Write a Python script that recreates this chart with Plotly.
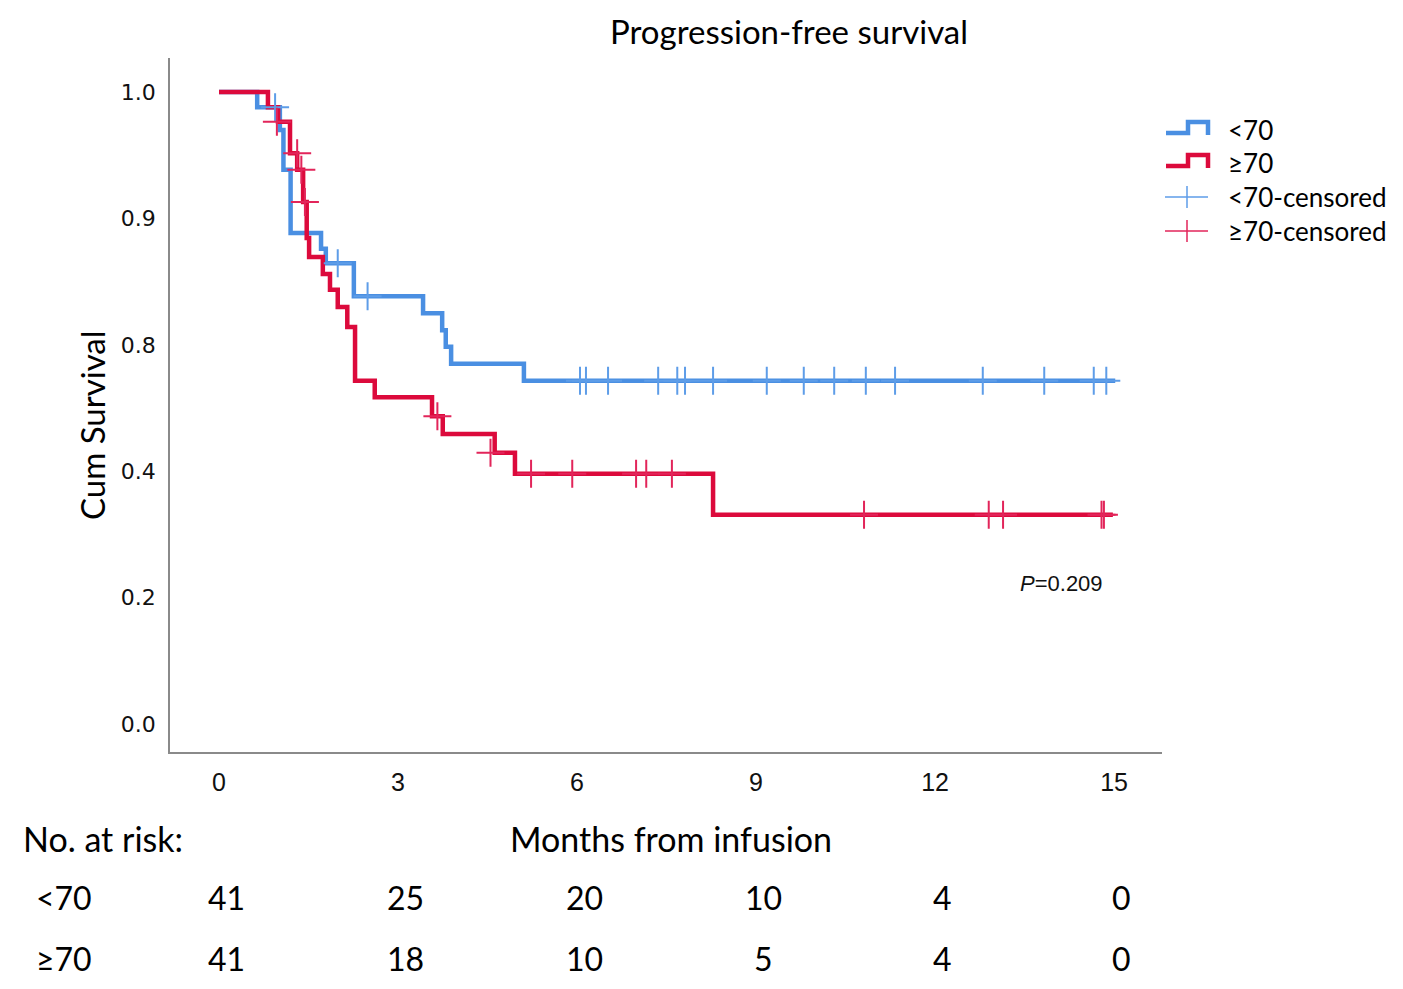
import plotly.graph_objects as go

# ---------------- data ----------------
blue_t = [0, 0.64, 1.02, 1.08, 1.20, 1.71, 1.79, 2.26, 3.42, 3.74, 3.80, 3.89, 5.11, 15.02]
blue_s = [1.0, 0.976, 0.940, 0.877, 0.777, 0.752, 0.729, 0.677, 0.650, 0.623, 0.597, 0.570, 0.543, 0.543]

red_t = [0, 0.82, 0.99, 1.19, 1.31, 1.41, 1.47, 1.51, 1.74, 1.86, 1.99, 2.15, 2.28, 2.61,
         3.57, 3.75, 4.62, 4.96, 8.28, 14.98]
red_s = [1.0, 0.976, 0.953, 0.903, 0.877, 0.826, 0.769, 0.739, 0.712, 0.687, 0.660, 0.628,
         0.543, 0.517, 0.487, 0.459, 0.429, 0.396, 0.331, 0.331]

blue_cens_t = [0.94, 1.99, 2.49, 6.05, 6.15, 6.52, 7.36, 7.68, 7.81, 8.28, 9.18, 9.80,
               10.31, 10.84, 11.33, 12.80, 13.83, 14.66, 14.87]
blue_cens_s = [0.976, 0.729, 0.677] + [0.543] * 16

red_cens_t = [0.97, 1.31, 1.38, 1.44, 3.66, 4.55, 5.23, 5.92, 6.99, 7.16, 7.59,
              10.81, 12.90, 13.14, 14.79, 14.83]
red_cens_s = [0.953, 0.903, 0.877, 0.826, 0.487, 0.429, 0.396, 0.396, 0.396, 0.396, 0.396,
              0.331, 0.331, 0.331, 0.331, 0.331]

x_ticks = [0, 3, 6, 9, 12, 15]
y_tickvals = [0.0, 0.2, 0.4, 0.6, 0.8, 1.0]
y_ticktext = ["0.0", "0.2", "0.4", "0.8", "0.9", "1.0"]

risk_times = [0, 3, 6, 9, 12, 15]
risk_lt70 = [41, 25, 20, 10, 4, 0]
risk_ge70 = [41, 18, 10, 5, 4, 0]

group_names = ["<70", "≥70"]
legend_labels = ["<70", "≥70", "<70-censored", "≥70-censored"]
title_text = "Progression-free survival"
p_text = "<i>P</i>=0.209"

# ---------------- styling ----------------
BLUE = "#4A8FE2"
BLUE_C = "#5E9DE8"
RED = "#DC0A3C"
RED_C = "#E2255A"
AXIS = "#8A8A8A"
OFF = 8  # page body margin
W, H = 1403 - OFF, 989 - OFF
L, R, T, B = 170, 1162, 58, 752  # plot box in reference pixels
TXT_FONT = "Lato, 'Open Sans', sans-serif"
NUM_FONT = "'Liberation Sans', Arial, sans-serif"


def px(xp):
    return (xp - L) / (R - L)


def py(yp):
    return (B - yp) / (B - T)


fig = go.Figure()
fig.add_trace(go.Scatter(x=blue_t, y=blue_s, mode="lines", line=dict(color=BLUE, width=4.5, shape="hv"),
                         name=group_names[0], showlegend=False))
fig.add_trace(go.Scatter(x=red_t, y=red_s, mode="lines", line=dict(color=RED, width=4.5, shape="hv"),
                         name=group_names[1], showlegend=False))
fig.add_trace(go.Scatter(x=blue_cens_t, y=blue_cens_s, mode="markers",
                         marker=dict(symbol="cross-thin", size=20, line=dict(color=BLUE_C, width=2)),
                         name=legend_labels[2], showlegend=False))
fig.add_trace(go.Scatter(x=red_cens_t, y=red_cens_s, mode="markers",
                         marker=dict(symbol="cross-thin", size=20, line=dict(color=RED_C, width=2)),
                         name=legend_labels[3], showlegend=False))

x0m = (L - 219) / 59.67
x1m = (R - 219) / 59.67
y0v = (724 - B) / 632
y1v = (724 - T) / 632

fig.update_xaxes(range=[x0m, x1m], tickvals=x_ticks, ticktext=[str(v) for v in x_ticks],
                 showgrid=False, zeroline=False, showline=True, linecolor=AXIS, linewidth=1.5,
                 ticks="outside", ticklen=7, tickcolor="rgba(0,0,0,0)",
                 tickfont=dict(family=NUM_FONT, size=25, color="#111"))
fig.update_yaxes(range=[y0v, y1v], tickvals=y_tickvals, ticktext=y_ticktext,
                 showgrid=False, zeroline=False, showline=True, linecolor=AXIS, linewidth=1.5,
                 ticks="outside", ticklen=8, tickcolor="rgba(0,0,0,0)",
                 tickfont=dict(family="'DejaVu Sans', sans-serif", size=22, color="#111"))

ann = []
ann.append(dict(text="Cum Survival", x=px(92), y=py(425), xref="paper", yref="paper", textangle=-90,
                showarrow=False, font=dict(family=TXT_FONT, size=33, color="#000"),
                xanchor="center", yanchor="middle"))
ann.append(dict(text="Months from infusion", x=px(671), y=py(838), xref="paper", yref="paper",
                showarrow=False, font=dict(family=TXT_FONT, size=34, color="#000"),
                xanchor="center", yanchor="middle"))
ann.append(dict(text="No. at risk:", x=px(21), y=py(838), xref="paper", yref="paper",
                showarrow=False, font=dict(family=TXT_FONT, size=34, color="#000"),
                xanchor="left", yanchor="middle"))
for gname, counts, yp in [(group_names[0], risk_lt70, 898), (group_names[1], risk_ge70, 958)]:
    ann.append(dict(text=gname, x=px(34), y=py(yp), xref="paper", yref="paper", showarrow=False,
                    font=dict(family=TXT_FONT, size=32, color="#000"), xanchor="left", yanchor="middle"))
    for t, c in zip(risk_times, counts):
        ann.append(dict(text=str(c), x=t, y=py(yp), xref="x", yref="paper", xshift=7, showarrow=False,
                        font=dict(family=TXT_FONT, size=32, color="#000"),
                        xanchor="center", yanchor="middle"))
ann.append(dict(text=p_text, x=px(1105), y=py(583), xref="paper", yref="paper", showarrow=False,
                font=dict(family=NUM_FONT, size=22, color="#111"), xanchor="right", yanchor="middle"))

shapes = []
leg_y = [130, 163, 197, 231]
for i, (lab, yc) in enumerate(zip(legend_labels, leg_y)):
    ann.append(dict(text=lab, x=px(1226), y=py(yc), xref="paper", yref="paper", showarrow=False,
                    font=dict(family=TXT_FONT, size=26, color="#000"), xanchor="left", yanchor="middle"))
    if i < 2:
        col = BLUE if i == 0 else RED
        pts = [(1166, yc + 3), (1188, yc + 3), (1188, yc - 8), (1208, yc - 8), (1208, yc + 5)]
        path = "M " + " L ".join(f"{px(a)},{py(b)}" for a, b in pts)
        shapes.append(dict(type="path", path=path, xref="paper", yref="paper",
                           line=dict(color=col, width=4.5)))
    else:
        col = BLUE_C if i == 2 else RED_C
        shapes.append(dict(type="line", x0=px(1165), x1=px(1208), y0=py(yc), y1=py(yc),
                           xref="paper", yref="paper", line=dict(color=col, width=1.5)))
        shapes.append(dict(type="line", x0=px(1187), x1=px(1187), y0=py(yc - 11), y1=py(yc + 11),
                           xref="paper", yref="paper", line=dict(color=col, width=1.5)))

fig.update_layout(
    width=W, height=H,
    margin=dict(l=L - OFF, r=W - (R - OFF), t=T - OFF, b=H - (B - OFF), pad=0),
    paper_bgcolor="white", plot_bgcolor="white",
    title=dict(text=title_text, x=(789 - OFF) / W, y=1 - (32 - OFF) / H, xref="container",
               yref="container", xanchor="center", yanchor="middle",
               font=dict(family=TXT_FONT, size=33, color="#000")),
    annotations=ann, shapes=shapes, showlegend=False,
)

fig.write_html("out.html")
